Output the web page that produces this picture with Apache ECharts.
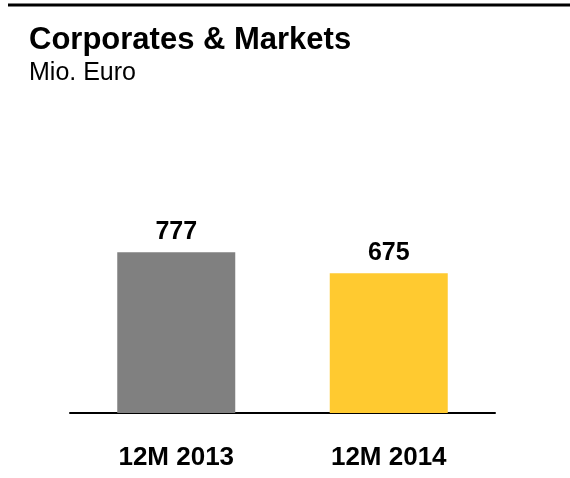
<!DOCTYPE html>
<html>
<head>
<meta charset="utf-8">
<script src="https://cdn.jsdelivr.net/npm/echarts@6/dist/echarts.min.js"></script>
<style>
  html, body { margin: 0; padding: 0; background: #fff; }
  #chart { width: 570px; height: 478px; }
</style>
</head>
<body>
<div id="chart"></div>
<script>
const categories = ['12M 2013', '12M 2014']
const values = [777, 675]
const barColors = ['#808080', '#FFCA30']

const chart = echarts.init(document.getElementById('chart'))

const option = {
  animation: false,
  title: [
    {
      text: 'Corporates & Markets',
      left: 29,
      top: 25,
      padding: 0,
      textStyle: { fontFamily: 'Liberation Sans, Arial', fontSize: 31, fontWeight: 'bold', color: '#000' }
    },
    {
      text: 'Mio. Euro',
      left: 29,
      top: 61,
      padding: 0,
      textStyle: { fontFamily: 'Liberation Sans, Arial', fontSize: 25, fontWeight: 'normal', color: '#000' }
    }
  ],
  graphic: [
    {
      type: 'line',
      shape: { x1: 8, y1: 5, x2: 570, y2: 5 },
      style: { stroke: '#000', lineWidth: 3 }
    }
  ],
  grid: { left: 70, right: 75, top: 206, bottom: 65 },
  xAxis: {
    type: 'category',
    data: categories,
    axisLine: { lineStyle: { color: '#000', width: 2 } },
    axisTick: { show: false },
    axisLabel: {
      margin: 32,
      fontFamily: 'Liberation Sans, Arial',
      fontSize: 26,
      fontWeight: 'bold',
      color: '#000'
    }
  },
  yAxis: {
    type: 'value',
    min: 0,
    max: 1000,
    show: false,
    splitLine: { show: false }
  },
  series: [
    {
      type: 'bar',
      barWidth: 118,
      data: values.map((v, i) => ({ value: v, itemStyle: { color: barColors[i] } })),
      label: {
        show: true,
        position: 'top',
        distance: 8,
        fontFamily: 'Liberation Sans, Arial',
        fontSize: 25,
        fontWeight: 'bold',
        color: '#000'
      }
    }
  ]
}

chart.setOption(option)
window.addEventListener('resize', () => chart.resize())
</script>
</body>
</html>
